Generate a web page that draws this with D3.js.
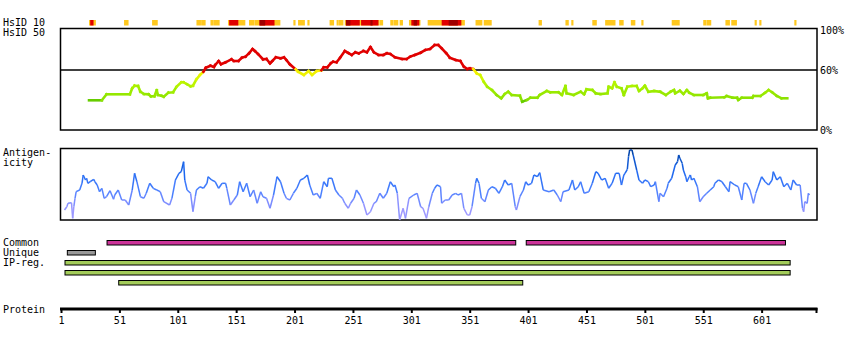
<!DOCTYPE html>
<html>
<head>
<meta charset="utf-8">
<script src="https://cdn.jsdelivr.net/npm/d3@7"></script>
<style>
  html, body { margin: 0; padding: 0; background: #fff; }
  svg { display: block; }
  text { font-family: "DejaVu Sans Mono", monospace; font-size: 10px; fill: #000; }
</style>
</head>
<body>
<svg id="chart" width="850" height="350"></svg>
<script>
// ---------------- DATA ----------------
const proteinLength = 648;
const axisTicks = [1, 51, 101, 151, 201, 251, 301, 351, 401, 451, 501, 551, 601];

// HsID 10 strip: [start, end] residue ranges per level
const hsid10Yellow = [[25,30],[55,58],[79,83],[117,120],[121,124],[129,131],[132,136],[144,158],[162,166],[167,188],[200,201],[204,209],[212,213],[231,234],[237,238],[239,242],[244,273],[274,276],[283,285],[286,289],[291,293],[299,308],[315,346],[356,361],[363,369],[410,412],[433,435],[438,439],[456,459],[467,475],[479,482],[489,492],[498,499],[524,530],[551,553],[554,557],[570,573],[575,579],[595,596],[599,600],[629,630]];
const hsid10Red = [[26,28],[145,152],[171,183],[245,256],[258,272],[301,307],[327,343]];
const hsid10Dark = [[171,175],[245,248],[266,267],[303,305],[333,340]];

// HsID 50 profile (% identity)
const hsid50Res = [25,36,40,60,62,64,67,69,72,76,78,81,83,84,87,89,93,97,100,104,106,109,112,114,117,120,123,125,129,132,133,136,138,142,147,149,153,156,159,162,165,167,170,174,177,180,182,185,189,192,194,197,202,204,209,213,216,220,224,226,229,232,234,237,240,244,247,250,253,256,260,263,266,269,273,277,280,283,287,293,297,300,304,309,313,317,321,324,327,331,334,339,343,346,349,351,354,357,360,363,366,370,374,378,381,384,387,394,396,400,403,409,411,417,420,427,430,433,434,440,446,449,451,456,459,463,469,470,473,475,477,481,483,486,490,494,496,499,501,504,509,514,519,523,526,527,531,534,537,539,543,551,554,555,557,569,571,576,580,581,584,593,594,600,604,607,610,614,618,623];
const hsid50Val = [29.7,29.7,35.7,35.7,41.7,44.3,44,38.3,36,35.7,33.7,33.7,39.7,35,34.3,33.3,37.3,37.7,43.3,47.7,47.7,45.7,43.7,44.3,50.7,55,58.3,62.3,64.3,63,65,69,65.7,67.7,70.7,69,69,72.3,73.3,76.7,81,79,75.7,70.7,71,66.7,69,72.7,71.7,72.7,70,65.7,60.7,58.3,55,59,55,59,59.7,62.7,62.7,66.7,68.3,67.7,72.3,79,77,75,77.7,76.7,79,77.7,83,77.7,75,75,76.7,76,72.7,71,71,73.3,75,77.3,80,81,85,85,81.7,76.7,72.3,70,69,63.3,61,61.7,61,56.7,55,48.3,43.3,40,35,31.7,36,38.3,35,34.3,28.3,30,32.3,32.3,35,39,37.7,37.7,35,44,36.7,35,38.3,35.7,40.7,40,36.7,36,36.7,43.3,41.7,47.7,43.3,41.7,35,43.3,44,44,39,41.7,44.3,38.3,39,38.3,35,38.3,40,36.7,39.3,36,40,37.3,35,35,36.7,31.7,32.3,32.7,34,32.3,32.3,30,32.3,32.3,34,34,37.3,40,37.7,34,31.7,31.7];
const hsid50Ticks = [100, 60, 0];

// Antigenicity profile
const antiRes = [4,6,7,10,11,12,13,14,17,19,20,22,23,24,26,29,30,32,34,36,38,40,43,46,47,50,53,56,59,62,64,66,69,72,74,77,80,83,86,89,94,96,99,102,104,106,107,109,112,114,116,117,120,123,126,127,130,133,136,139,142,143,146,149,152,154,157,160,163,166,169,172,174,177,180,183,186,189,192,194,197,200,203,206,209,212,214,217,220,223,226,229,230,233,236,239,242,244,247,249,252,254,257,260,263,266,269,271,274,277,280,283,286,287,289,291,294,296,299,303,306,309,311,314,316,319,321,323,326,327,330,333,336,339,341,344,346,349,351,353,356,357,359,361,364,367,370,373,376,379,381,384,387,390,391,394,397,399,401,404,406,409,411,414,419,423,426,429,431,436,439,441,444,446,449,453,456,459,461,464,467,470,473,476,479,481,483,484,486,487,488,490,491,494,496,499,501,504,506,509,510,513,514,517,520,521,524,527,529,530,531,533,534,536,537,539,540,541,543,546,548,551,554,557,560,561,564,567,570,573,574,578,581,584,586,588,591,594,596,598,601,604,607,610,611,614,617,620,623,626,628,631,634,636,637,638,640,641,642];
const antiVal = [10,13.3,16.7,17.3,1.7,13.3,21.7,28.3,30,36.7,45,40,41.7,36.7,38.3,40.7,38.3,35,28.3,31.7,21.7,23.3,29.3,20.7,25,30,20,20,15,30,46.7,38.3,23.3,21.7,26.7,36.7,31.7,30,28.3,18.3,15,21.7,40,46.7,48.3,58.3,40,30,26.7,8.3,23.3,30,33.3,31.7,36.7,43.3,40,38.3,31.7,36.7,36.7,31.7,15,20,25,38.3,28.3,36.7,23.3,30,16.7,28.3,23.3,21.7,11.7,25,43.3,38.3,26.7,21.7,20,26.7,31.7,40,41.7,45,35,25,26.7,21.7,38.3,33.3,41.7,41.7,30,25,21.7,16.7,11.7,16.7,21.7,30,25,16.7,5,8.3,16.7,18.3,26.7,21.7,26.7,38.3,33.3,35,26.7,0,11.7,1.7,21.7,25,26.7,13.3,11.7,1.7,13.3,26.7,31.7,35,33.3,16.7,20,20,25,26.7,25,26.7,11.7,5,5,13.3,36.7,41.7,36.7,21.7,18.3,30,33.3,31.7,26.7,33.3,40,35,36.7,13.3,10,23.3,30,38.3,35,36.7,45,43.3,47.3,30,28.3,30,25,18.3,28.3,30,40,30,33.3,38.3,26.7,28.3,36.7,48.3,46.7,40,41.7,31.7,36.7,46.7,46.7,35,45,46.7,50.7,63.3,70,70,65,50,40,36.7,40,38.3,33.3,35,38.3,18.3,26.7,23.3,31.7,36.7,41.7,55,58.3,65,61.7,56.7,50,43.3,38.3,43.3,45,40,41.7,33.3,18.3,23.3,26.7,30,33.3,36.7,40,38.3,33.3,28.3,38.3,35,33.3,20,36.7,36.7,30,16.7,26.7,33.3,43.3,38.3,35,40,48.3,40,43.3,33.3,36.7,30,40,35,35,11.7,8.3,18.3,16.7,26.7,25];

// Feature tracks
const commonRanges = [[40, 390], [399, 621]];
const uniqueRanges = [[6, 30]];
const ipRegRanges = [[4, 625], [4, 625], [50, 396]];

// ---------------- DRAWING ----------------
const svg = d3.select("#chart");
const x = d3.scaleLinear().domain([1, proteinLength]).range([61, 816.5]);

// Left labels
const labels = [
  ["HsID 10", 26], ["HsID 50", 36], ["Antigen-", 156], ["icity", 166],
  ["Common", 246], ["Unique", 256], ["IP-reg.", 266], ["Protein", 313]
];
svg.selectAll("text.lbl").data(labels).join("text")
  .attr("class", "lbl").attr("x", 3).attr("y", d => d[1]).text(d => d[0]);

// HsID 10 strip
const stripY = 20, stripH = 5.5;
function strip(data, color) {
  svg.append("g").selectAll("rect").data(data).join("rect")
    .attr("x", d => x(d[0]))
    .attr("y", stripY)
    .attr("width", d => Math.max(x(d[1]) - x(d[0]) + 1, 1.5))
    .attr("height", stripH)
    .attr("fill", color);
}
strip(hsid10Yellow, "#ffc81e");
strip(hsid10Red, "#e00000");
strip(hsid10Dark, "#a00000");

// HsID 50 panel
const y50 = d3.scaleLinear().domain([0, 100]).range([130, 30]);
svg.append("rect").attr("x", 60.5).attr("y", 28.5).attr("width", 756.5).attr("height", 101.5)
  .attr("fill", "none").attr("stroke", "#000").attr("stroke-width", 1.5);
svg.append("line").attr("x1", 60.5).attr("x2", 817).attr("y1", y50(60)).attr("y2", y50(60))
  .attr("stroke", "#000").attr("stroke-width", 1.5);
svg.selectAll("text.pct").data(hsid50Ticks).join("text")
  .attr("class", "pct").attr("x", 820).attr("y", d => y50(d) + 3.5).text(d => d + "%");

const greenScale = d3.scaleLinear().domain([30, 42, 52, 59.9])
  .range(["#88e000", "#a4f000", "#d4f800", "#ffee00"]).clamp(true);
function col50(v) {
  if (v >= 60) return "#e00000";
  if (v < 30) return "#66cc00";
  return greenScale(v);
}
const segs50 = d3.range(hsid50Res.length - 1).map(i => ({
  a: [hsid50Res[i], hsid50Val[i]], b: [hsid50Res[i + 1], hsid50Val[i + 1]]
}));
const line50 = d3.line().x(d => x(d[0])).y(d => y50(d[1]));
svg.append("g").selectAll("path").data(segs50).join("path")
  .attr("d", d => line50([d.a, d.b]))
  .attr("fill", "none")
  .attr("stroke", d => col50((d.a[1] + d.b[1]) / 2))
  .attr("stroke-width", 2.6)
  .attr("stroke-linecap", "square");

// Antigenicity panel
const yA = d3.scaleLinear().domain([0, 72]).range([220, 148]);
svg.append("rect").attr("x", 60.5).attr("y", 148.5).attr("width", 756.5).attr("height", 71.5)
  .attr("fill", "none").attr("stroke", "#000").attr("stroke-width", 1.5);
const antiColor = d3.scaleLinear().domain([0, 15, 30, 50, 70])
  .range(["#b0a0ff", "#8890ff", "#4a80ff", "#1a66ee", "#0040a0"]).clamp(true);
const antiPts = antiRes.map((r, i) => [r, antiVal[i]]);
const lineA = d3.line().x(d => x(d[0])).y(d => yA(d[1]));
svg.append("g").selectAll("path").data(d3.range(antiPts.length - 1)).join("path")
  .attr("d", i => lineA([antiPts[i], antiPts[i + 1]]))
  .attr("fill", "none")
  .attr("stroke", i => antiColor((antiPts[i][1] + antiPts[i + 1][1]) / 2))
  .attr("stroke-width", 1.5);

// Feature bars
const barH = 4.5;
function bars(data, yTop, fill) {
  svg.append("g").selectAll("rect").data(data).join("rect")
    .attr("x", d => x(d[0]) + 0.5)
    .attr("y", yTop + 0.5)
    .attr("width", d => x(d[1]) - x(d[0]))
    .attr("height", barH)
    .attr("fill", fill).attr("stroke", "#000").attr("stroke-width", 1);
}
bars(commonRanges, 240, "#cc3399");
bars(uniqueRanges, 250, "#999999");
ipRegRanges.forEach((r, i) => bars([r], 260 + i * 10, "#a3cc5a"));

// Protein axis
const axis = d3.axisBottom(x).tickValues(axisTicks).tickSize(5).tickSizeOuter(0).tickPadding(4);
const ag = svg.append("g").attr("transform", "translate(0,308)").call(axis);
ag.select(".domain").remove();
ag.selectAll(".tick line").attr("stroke", "#000").attr("stroke-width", 2);
ag.selectAll(".tick text").style("font-family", "DejaVu Sans Mono, monospace").style("font-size", "10px").attr("fill", "#000");
svg.append("line").attr("x1", x(1) - 1).attr("x2", x(proteinLength) + 1)
  .attr("y1", 309).attr("y2", 309).attr("stroke", "#000").attr("stroke-width", 3);
svg.append("line").attr("x1", x(proteinLength)).attr("x2", x(proteinLength))
  .attr("y1", 308).attr("y2", 313).attr("stroke", "#000").attr("stroke-width", 2);
</script>
</body>
</html>
